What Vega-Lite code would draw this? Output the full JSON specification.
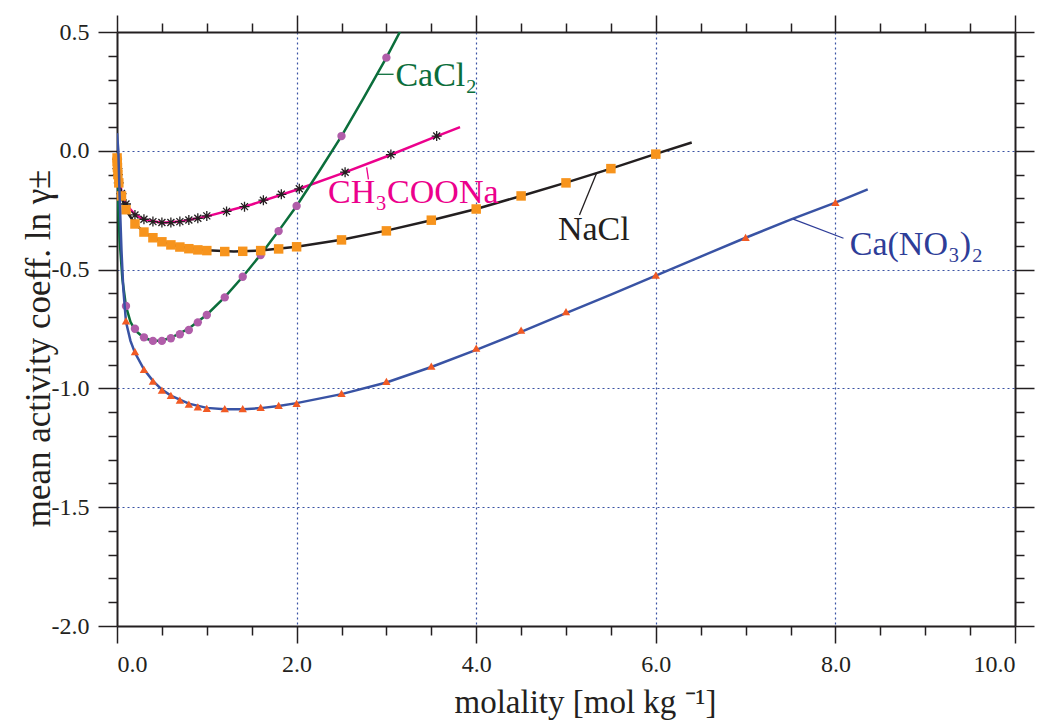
{
  "$schema": "https://vega.github.io/schema/vega-lite/v6.json",
  "width": 898,
  "height": 594,
  "autosize": "none",
  "padding": {"left": 117, "top": 32, "right": 23, "bottom": 96},
  "background": "white",
  "config": {
    "view": {"stroke": null},
    "axis": {
      "labelFont": "Liberation Serif", "labelFontSize": 24, "labelColor": "#231f20",
      "tickColor": "#231f20", "tickWidth": 1.5, "domainColor": "#231f20", "domainWidth": 2,
      "titleFont": "Liberation Serif", "titleFontSize": 33, "titleFontWeight": "normal", "titleColor": "#231f20",
      "gridColor": "#3a53a4", "gridDash": [2, 3], "gridWidth": 1.2, "gridOpacity": 1
    }
  },
  "datasets": {
    "pts": [
      {"series": "NaCl", "m": 0.001, "lng": -0.03}, {"series": "NaCl", "m": 0.002, "lng": -0.045},
      {"series": "NaCl", "m": 0.005, "lng": -0.07}, {"series": "NaCl", "m": 0.01, "lng": -0.1},
      {"series": "NaCl", "m": 0.02, "lng": -0.135}, {"series": "NaCl", "m": 0.05, "lng": -0.19},
      {"series": "NaCl", "m": 0.1, "lng": -0.248}, {"series": "NaCl", "m": 0.2, "lng": -0.308},
      {"series": "NaCl", "m": 0.3, "lng": -0.342}, {"series": "NaCl", "m": 0.4, "lng": -0.366},
      {"series": "NaCl", "m": 0.5, "lng": -0.383}, {"series": "NaCl", "m": 0.6, "lng": -0.396},
      {"series": "NaCl", "m": 0.7, "lng": -0.405}, {"series": "NaCl", "m": 0.8, "lng": -0.412},
      {"series": "NaCl", "m": 0.9, "lng": -0.417}, {"series": "NaCl", "m": 1.0, "lng": -0.42},
      {"series": "NaCl", "m": 1.2, "lng": -0.424}, {"series": "NaCl", "m": 1.4, "lng": -0.423},
      {"series": "NaCl", "m": 1.6, "lng": -0.42}, {"series": "NaCl", "m": 1.8, "lng": -0.413},
      {"series": "NaCl", "m": 2.0, "lng": -0.404}, {"series": "NaCl", "m": 2.5, "lng": -0.375},
      {"series": "NaCl", "m": 3.0, "lng": -0.337}, {"series": "NaCl", "m": 3.5, "lng": -0.292},
      {"series": "NaCl", "m": 4.0, "lng": -0.245}, {"series": "NaCl", "m": 4.5, "lng": -0.19},
      {"series": "NaCl", "m": 5.0, "lng": -0.135}, {"series": "NaCl", "m": 5.5, "lng": -0.075},
      {"series": "NaCl", "m": 6.0, "lng": -0.014},

      {"series": "CH3COONa", "m": 0.001, "lng": -0.035}, {"series": "CH3COONa", "m": 0.005, "lng": -0.075},
      {"series": "CH3COONa", "m": 0.01, "lng": -0.1}, {"series": "CH3COONa", "m": 0.02, "lng": -0.135},
      {"series": "CH3COONa", "m": 0.05, "lng": -0.18}, {"series": "CH3COONa", "m": 0.1, "lng": -0.224},
      {"series": "CH3COONa", "m": 0.2, "lng": -0.27}, {"series": "CH3COONa", "m": 0.3, "lng": -0.288},
      {"series": "CH3COONa", "m": 0.4, "lng": -0.298}, {"series": "CH3COONa", "m": 0.5, "lng": -0.302},
      {"series": "CH3COONa", "m": 0.6, "lng": -0.302}, {"series": "CH3COONa", "m": 0.7, "lng": -0.298},
      {"series": "CH3COONa", "m": 0.8, "lng": -0.291}, {"series": "CH3COONa", "m": 0.9, "lng": -0.284},
      {"series": "CH3COONa", "m": 1.0, "lng": -0.274}, {"series": "CH3COONa", "m": 1.22, "lng": -0.255},
      {"series": "CH3COONa", "m": 1.42, "lng": -0.235}, {"series": "CH3COONa", "m": 1.63, "lng": -0.208},
      {"series": "CH3COONa", "m": 1.83, "lng": -0.183}, {"series": "CH3COONa", "m": 2.03, "lng": -0.16},
      {"series": "CH3COONa", "m": 2.54, "lng": -0.09}, {"series": "CH3COONa", "m": 3.05, "lng": -0.016},
      {"series": "CH3COONa", "m": 3.56, "lng": 0.062},

      {"series": "CaCl2", "m": 0.1, "lng": -0.653}, {"series": "CaCl2", "m": 0.2, "lng": -0.749},
      {"series": "CaCl2", "m": 0.3, "lng": -0.785}, {"series": "CaCl2", "m": 0.4, "lng": -0.8},
      {"series": "CaCl2", "m": 0.5, "lng": -0.8}, {"series": "CaCl2", "m": 0.6, "lng": -0.789},
      {"series": "CaCl2", "m": 0.7, "lng": -0.772}, {"series": "CaCl2", "m": 0.8, "lng": -0.754},
      {"series": "CaCl2", "m": 0.9, "lng": -0.722}, {"series": "CaCl2", "m": 1.0, "lng": -0.691},
      {"series": "CaCl2", "m": 1.2, "lng": -0.617}, {"series": "CaCl2", "m": 1.4, "lng": -0.53},
      {"series": "CaCl2", "m": 1.6, "lng": -0.439}, {"series": "CaCl2", "m": 1.8, "lng": -0.338},
      {"series": "CaCl2", "m": 2.0, "lng": -0.232}, {"series": "CaCl2", "m": 2.5, "lng": 0.062},
      {"series": "CaCl2", "m": 3.0, "lng": 0.392},

      {"series": "Ca(NO3)2", "m": 0.1, "lng": -0.716}, {"series": "Ca(NO3)2", "m": 0.2, "lng": -0.845},
      {"series": "Ca(NO3)2", "m": 0.3, "lng": -0.92}, {"series": "Ca(NO3)2", "m": 0.4, "lng": -0.969},
      {"series": "Ca(NO3)2", "m": 0.5, "lng": -1.007}, {"series": "Ca(NO3)2", "m": 0.6, "lng": -1.029},
      {"series": "Ca(NO3)2", "m": 0.7, "lng": -1.049}, {"series": "Ca(NO3)2", "m": 0.8, "lng": -1.066},
      {"series": "Ca(NO3)2", "m": 0.9, "lng": -1.078}, {"series": "Ca(NO3)2", "m": 1.0, "lng": -1.084},
      {"series": "Ca(NO3)2", "m": 1.2, "lng": -1.085}, {"series": "Ca(NO3)2", "m": 1.4, "lng": -1.085},
      {"series": "Ca(NO3)2", "m": 1.6, "lng": -1.08}, {"series": "Ca(NO3)2", "m": 1.8, "lng": -1.071},
      {"series": "Ca(NO3)2", "m": 2.0, "lng": -1.063}, {"series": "Ca(NO3)2", "m": 2.5, "lng": -1.021},
      {"series": "Ca(NO3)2", "m": 3.0, "lng": -0.97}, {"series": "Ca(NO3)2", "m": 3.5, "lng": -0.906},
      {"series": "Ca(NO3)2", "m": 4.0, "lng": -0.83}, {"series": "Ca(NO3)2", "m": 4.5, "lng": -0.755},
      {"series": "Ca(NO3)2", "m": 5.0, "lng": -0.677}, {"series": "Ca(NO3)2", "m": 6.0, "lng": -0.523},
      {"series": "Ca(NO3)2", "m": 7.0, "lng": -0.364}, {"series": "Ca(NO3)2", "m": 8.0, "lng": -0.217}
    ],
    "curves": [
      {"series": "NaCl", "m": 0.0, "lng": 0.0}, {"series": "NaCl", "m": 0.005, "lng": -0.07},
      {"series": "NaCl", "m": 0.01, "lng": -0.1}, {"series": "NaCl", "m": 0.02, "lng": -0.135},
      {"series": "NaCl", "m": 0.05, "lng": -0.195}, {"series": "NaCl", "m": 0.1, "lng": -0.25},
      {"series": "NaCl", "m": 0.2, "lng": -0.307}, {"series": "NaCl", "m": 0.3, "lng": -0.342},
      {"series": "NaCl", "m": 0.4, "lng": -0.366}, {"series": "NaCl", "m": 0.5, "lng": -0.383},
      {"series": "NaCl", "m": 0.7, "lng": -0.404}, {"series": "NaCl", "m": 1.0, "lng": -0.419},
      {"series": "NaCl", "m": 1.3, "lng": -0.424}, {"series": "NaCl", "m": 1.6, "lng": -0.42},
      {"series": "NaCl", "m": 2.0, "lng": -0.404}, {"series": "NaCl", "m": 2.5, "lng": -0.374},
      {"series": "NaCl", "m": 3.0, "lng": -0.336}, {"series": "NaCl", "m": 3.5, "lng": -0.292},
      {"series": "NaCl", "m": 4.0, "lng": -0.245}, {"series": "NaCl", "m": 4.5, "lng": -0.19},
      {"series": "NaCl", "m": 5.0, "lng": -0.134}, {"series": "NaCl", "m": 5.5, "lng": -0.075},
      {"series": "NaCl", "m": 6.0, "lng": -0.013}, {"series": "NaCl", "m": 6.4, "lng": 0.035},

      {"series": "CH3COONa", "m": 0.0, "lng": 0.0}, {"series": "CH3COONa", "m": 0.05, "lng": -0.18},
      {"series": "CH3COONa", "m": 0.1, "lng": -0.225}, {"series": "CH3COONa", "m": 0.2, "lng": -0.268},
      {"series": "CH3COONa", "m": 0.3, "lng": -0.289}, {"series": "CH3COONa", "m": 0.5, "lng": -0.303},
      {"series": "CH3COONa", "m": 0.7, "lng": -0.298}, {"series": "CH3COONa", "m": 1.0, "lng": -0.276},
      {"series": "CH3COONa", "m": 1.5, "lng": -0.226}, {"series": "CH3COONa", "m": 2.0, "lng": -0.164},
      {"series": "CH3COONa", "m": 2.5, "lng": -0.096}, {"series": "CH3COONa", "m": 3.0, "lng": -0.024},
      {"series": "CH3COONa", "m": 3.5, "lng": 0.052}, {"series": "CH3COONa", "m": 3.82, "lng": 0.1},

      {"series": "CaCl2", "m": 0.0, "lng": 0.0}, {"series": "CaCl2", "m": 0.01, "lng": -0.2},
      {"series": "CaCl2", "m": 0.03, "lng": -0.38}, {"series": "CaCl2", "m": 0.06, "lng": -0.54},
      {"series": "CaCl2", "m": 0.1, "lng": -0.655}, {"series": "CaCl2", "m": 0.15, "lng": -0.72},
      {"series": "CaCl2", "m": 0.2, "lng": -0.755}, {"series": "CaCl2", "m": 0.3, "lng": -0.787},
      {"series": "CaCl2", "m": 0.4, "lng": -0.8}, {"series": "CaCl2", "m": 0.5, "lng": -0.798},
      {"series": "CaCl2", "m": 0.6, "lng": -0.787}, {"series": "CaCl2", "m": 0.8, "lng": -0.748},
      {"series": "CaCl2", "m": 1.0, "lng": -0.69}, {"series": "CaCl2", "m": 1.2, "lng": -0.616},
      {"series": "CaCl2", "m": 1.4, "lng": -0.53}, {"series": "CaCl2", "m": 1.6, "lng": -0.437},
      {"series": "CaCl2", "m": 1.8, "lng": -0.337}, {"series": "CaCl2", "m": 2.0, "lng": -0.232},
      {"series": "CaCl2", "m": 2.25, "lng": -0.087}, {"series": "CaCl2", "m": 2.5, "lng": 0.062},
      {"series": "CaCl2", "m": 2.75, "lng": 0.225}, {"series": "CaCl2", "m": 3.0, "lng": 0.392},
      {"series": "CaCl2", "m": 3.15, "lng": 0.5},

      {"series": "Ca(NO3)2", "m": 0.0, "lng": 0.074}, {"series": "Ca(NO3)2", "m": 0.015, "lng": 0.0},
      {"series": "Ca(NO3)2", "m": 0.03, "lng": -0.2}, {"series": "Ca(NO3)2", "m": 0.05, "lng": -0.42},
      {"series": "Ca(NO3)2", "m": 0.07, "lng": -0.58}, {"series": "Ca(NO3)2", "m": 0.1, "lng": -0.72},
      {"series": "Ca(NO3)2", "m": 0.15, "lng": -0.8}, {"series": "Ca(NO3)2", "m": 0.2, "lng": -0.85},
      {"series": "Ca(NO3)2", "m": 0.3, "lng": -0.92}, {"series": "Ca(NO3)2", "m": 0.4, "lng": -0.968},
      {"series": "Ca(NO3)2", "m": 0.5, "lng": -1.005}, {"series": "Ca(NO3)2", "m": 0.6, "lng": -1.03},
      {"series": "Ca(NO3)2", "m": 0.8, "lng": -1.064}, {"series": "Ca(NO3)2", "m": 1.0, "lng": -1.082},
      {"series": "Ca(NO3)2", "m": 1.2, "lng": -1.088}, {"series": "Ca(NO3)2", "m": 1.4, "lng": -1.088},
      {"series": "Ca(NO3)2", "m": 1.6, "lng": -1.083}, {"series": "Ca(NO3)2", "m": 1.8, "lng": -1.074},
      {"series": "Ca(NO3)2", "m": 2.0, "lng": -1.062}, {"series": "Ca(NO3)2", "m": 2.5, "lng": -1.024},
      {"series": "Ca(NO3)2", "m": 3.0, "lng": -0.975}, {"series": "Ca(NO3)2", "m": 3.5, "lng": -0.91},
      {"series": "Ca(NO3)2", "m": 4.0, "lng": -0.838}, {"series": "Ca(NO3)2", "m": 4.5, "lng": -0.762},
      {"series": "Ca(NO3)2", "m": 5.0, "lng": -0.683}, {"series": "Ca(NO3)2", "m": 5.5, "lng": -0.605},
      {"series": "Ca(NO3)2", "m": 6.0, "lng": -0.525}, {"series": "Ca(NO3)2", "m": 6.5, "lng": -0.445},
      {"series": "Ca(NO3)2", "m": 7.0, "lng": -0.366}, {"series": "Ca(NO3)2", "m": 7.5, "lng": -0.29},
      {"series": "Ca(NO3)2", "m": 8.0, "lng": -0.218}, {"series": "Ca(NO3)2", "m": 8.36, "lng": -0.162}
    ],
    "notes": [
      {"series": "CaCl2", "label": "CaCl₂", "m": 3.1, "lng": 0.274},
      {"series": "CH3COONa", "label": "CH₃COONa", "m": 2.35, "lng": -0.22},
      {"series": "NaCl", "label": "NaCl", "m": 4.91, "lng": -0.375},
      {"series": "Ca(NO3)2", "label": "Ca(NO₃)₂", "m": 8.16, "lng": -0.439}
    ],
    "leaders": [
      {"series": "CaCl2", "m": 2.89, "lng": 0.322, "m2": 3.08, "lng2": 0.322},
      {"series": "CH3COONa", "m": 2.78, "lng": -0.07, "m2": 2.8, "lng2": -0.12},
      {"series": "NaCl", "m": 5.34, "lng": -0.094, "m2": 5.15, "lng2": -0.27},
      {"series": "Ca(NO3)2", "m": 7.53, "lng": -0.288, "m2": 8.09, "lng2": -0.368}
    ]
  },
  "resolve": {"axis": {"x": "independent", "y": "independent"}},
  "layer": [
    {
      "data": {"name": "curves"},
      "transform": [{"filter": "datum.series == 'CH3COONa'"}],
      "mark": {"type": "line", "color": "#ec008c", "strokeWidth": 2.5, "clip": true},
      "encoding": {
        "x": {"field": "m", "type": "quantitative", "scale": {"domain": [0, 10], "nice": false, "zero": false},
          "axis": {"orient": "bottom", "values": [0, 2, 4, 6, 8, 10], "tickSize": 17, "labelPadding": 9,
            "labelExpr": "replace(format(datum.value, '.1f'), '−', '-')", "grid": false,
            "title": "molality [mol kg ⁻¹]", "titleX": 468, "titleY": 86, "titleBaseline": "alphabetic", "titleAlign": "center", "titleAnchor": "start"}},
        "y": {"field": "lng", "type": "quantitative", "scale": {"domain": [-2, 0.5], "nice": false, "zero": false},
          "axis": {"orient": "left", "values": [0.5, 0, -0.5, -1, -1.5, -2], "tickSize": 19, "labelPadding": 9,
            "labelExpr": "replace(format(datum.value, '.1f'), '−', '-')", "grid": false,
            "title": "mean activity coeff. ln γ±", "titleFontSize": 35, "titleX": -68, "titleY": 316, "titleAngle": 270, "titleBaseline": "alphabetic", "titleAlign": "center", "titleAnchor": "start"}}
      }
    },
    {
      "data": {"name": "pts"},
      "transform": [{"filter": "datum.series == 'CH3COONa'"}],
      "mark": {"type": "point", "shape": "M-1,0L1,0M0,-1L0,1M-0.7,-0.7L0.7,0.7M-0.7,0.7L0.7,-0.7", "filled": false, "stroke": "#231f20", "strokeWidth": 1.3, "size": 100, "opacity": 1},
      "encoding": {
        "x": {"field": "m", "type": "quantitative", "scale": {"domain": [0, 10], "nice": false, "zero": false},
          "axis": {"orient": "bottom", "values": [0.5, 1, 1.5, 2.5, 3, 3.5, 4.5, 5, 5.5, 6.5, 7, 7.5, 8.5, 9, 9.5], "tickSize": 9, "labels": false, "domain": false, "grid": false, "title": null}},
        "y": {"field": "lng", "type": "quantitative", "scale": {"domain": [-2, 0.5], "nice": false, "zero": false},
          "axis": {"orient": "left", "values": [0.4, 0.3, 0.2, 0.1, -0.1, -0.2, -0.3, -0.4, -0.6, -0.7, -0.8, -0.9, -1.1, -1.2, -1.3, -1.4, -1.6, -1.7, -1.8, -1.9], "tickSize": 9, "labels": false, "domain": false, "grid": false, "title": null}}
      }
    },
    {
      "data": {"name": "curves"},
      "transform": [{"filter": "datum.series == 'CaCl2'"}],
      "mark": {"type": "line", "color": "#0b6e3b", "strokeWidth": 2.5, "clip": true},
      "encoding": {
        "x": {"field": "m", "type": "quantitative", "scale": {"domain": [0, 10], "nice": false, "zero": false},
          "axis": {"orient": "top", "values": [0, 2, 4, 6, 8, 10], "tickSize": 17, "labels": false, "grid": false, "title": null}},
        "y": {"field": "lng", "type": "quantitative", "scale": {"domain": [-2, 0.5], "nice": false, "zero": false},
          "axis": {"orient": "right", "values": [0.5, 0, -0.5, -1, -1.5, -2], "tickSize": 19, "labels": false, "grid": false, "title": null}}
      }
    },
    {
      "data": {"name": "pts"},
      "transform": [{"filter": "datum.series == 'CaCl2'"}],
      "mark": {"type": "circle", "color": "#b05da9", "size": 70, "opacity": 1},
      "encoding": {
        "x": {"field": "m", "type": "quantitative", "scale": {"domain": [0, 10], "nice": false, "zero": false},
          "axis": {"orient": "top", "values": [0.5, 1, 1.5, 2.5, 3, 3.5, 4.5, 5, 5.5, 6.5, 7, 7.5, 8.5, 9, 9.5], "tickSize": 9, "labels": false, "domain": false, "grid": false, "title": null}},
        "y": {"field": "lng", "type": "quantitative", "scale": {"domain": [-2, 0.5], "nice": false, "zero": false},
          "axis": {"orient": "right", "values": [0.4, 0.3, 0.2, 0.1, -0.1, -0.2, -0.3, -0.4, -0.6, -0.7, -0.8, -0.9, -1.1, -1.2, -1.3, -1.4, -1.6, -1.7, -1.8, -1.9], "tickSize": 9, "labels": false, "domain": false, "grid": false, "title": null}}
      }
    },
    {
      "data": {"name": "curves"},
      "transform": [{"filter": "datum.series == 'NaCl'"}],
      "mark": {"type": "line", "color": "#231f20", "strokeWidth": 2.5, "clip": true},
      "encoding": {
        "x": {"field": "m", "type": "quantitative", "scale": {"domain": [0, 10], "nice": false, "zero": false},
          "axis": {"orient": "bottom", "values": [2, 4, 6, 8], "grid": true, "ticks": false, "labels": false, "domain": false, "title": null}},
        "y": {"field": "lng", "type": "quantitative", "scale": {"domain": [-2, 0.5], "nice": false, "zero": false},
          "axis": {"orient": "left", "values": [0, -0.5, -1, -1.5], "grid": true, "ticks": false, "labels": false, "domain": false, "title": null}}
      }
    },
    {
      "data": {"name": "pts"},
      "transform": [{"filter": "datum.series == 'NaCl'"}],
      "mark": {"type": "square", "color": "#f7941d", "size": 90, "opacity": 1},
      "encoding": {
        "x": {"field": "m", "type": "quantitative", "scale": {"domain": [0, 10], "nice": false, "zero": false}, "axis": null},
        "y": {"field": "lng", "type": "quantitative", "scale": {"domain": [-2, 0.5], "nice": false, "zero": false}, "axis": null}
      }
    },
    {
      "data": {"name": "curves"},
      "transform": [{"filter": "datum.series == 'Ca(NO3)2'"}],
      "mark": {"type": "line", "color": "#3953a4", "strokeWidth": 2.5, "clip": true},
      "encoding": {
        "x": {"field": "m", "type": "quantitative", "scale": {"domain": [0, 10], "nice": false, "zero": false}, "axis": null},
        "y": {"field": "lng", "type": "quantitative", "scale": {"domain": [-2, 0.5], "nice": false, "zero": false}, "axis": null}
      }
    },
    {
      "data": {"name": "pts"},
      "transform": [{"filter": "datum.series == 'Ca(NO3)2'"}],
      "mark": {"type": "point", "shape": "triangle-up", "filled": true, "color": "#f15a24", "size": 70, "opacity": 1},
      "encoding": {
        "x": {"field": "m", "type": "quantitative", "scale": {"domain": [0, 10], "nice": false, "zero": false}, "axis": null},
        "y": {"field": "lng", "type": "quantitative", "scale": {"domain": [-2, 0.5], "nice": false, "zero": false}, "axis": null}
      }
    },
    {
      "data": {"name": "leaders"},
      "mark": {"type": "rule", "strokeWidth": 1.3},
      "encoding": {
        "x": {"field": "m", "type": "quantitative", "scale": {"domain": [0, 10], "nice": false, "zero": false}, "axis": null},
        "y": {"field": "lng", "type": "quantitative", "scale": {"domain": [-2, 0.5], "nice": false, "zero": false}, "axis": null},
        "x2": {"field": "m2"},
        "y2": {"field": "lng2"},
        "color": {"field": "series", "type": "nominal", "legend": null,
          "scale": {"domain": ["CaCl2", "CH3COONa", "NaCl", "Ca(NO3)2"], "range": ["#0b6e3b", "#ec008c", "#231f20", "#2e3d98"]}}
      }
    },
    {
      "data": {"name": "notes"},
      "mark": {"type": "text", "font": "Liberation Serif", "fontSize": 34, "align": "left", "baseline": "alphabetic"},
      "encoding": {
        "x": {"field": "m", "type": "quantitative", "scale": {"domain": [0, 10], "nice": false, "zero": false}, "axis": null},
        "y": {"field": "lng", "type": "quantitative", "scale": {"domain": [-2, 0.5], "nice": false, "zero": false}, "axis": null},
        "text": {"field": "label"},
        "color": {"field": "series", "type": "nominal", "legend": null,
          "scale": {"domain": ["CaCl2", "CH3COONa", "NaCl", "Ca(NO3)2"], "range": ["#0b6e3b", "#ec008c", "#231f20", "#2e3d98"]}}
      }
    }
  ]
}
